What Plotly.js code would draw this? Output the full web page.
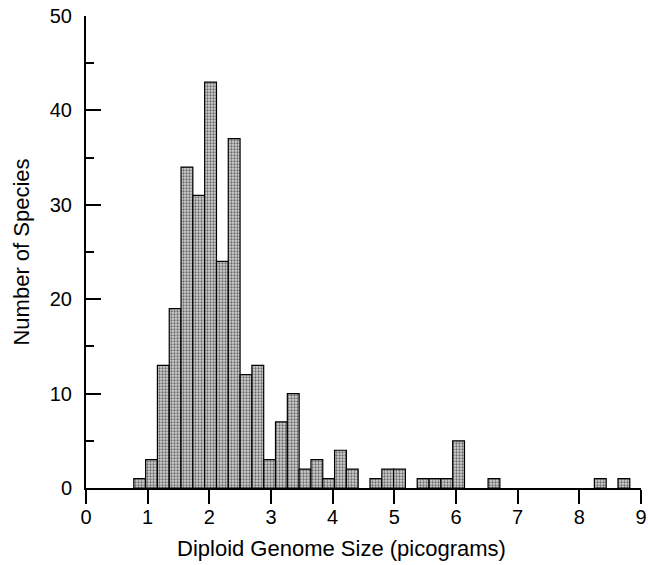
<!DOCTYPE html>
<html>
<head>
<meta charset="utf-8">
<script src="https://cdn.plot.ly/plotly-3.0.1.min.js"></script>
<style>html,body{margin:0;padding:0;background:#fff;}#chart{width:648px;height:565px;}</style>
</head>
<body>
<div id="chart"></div>
<script>
// Lower edge of each non-empty bin (picograms) and number of species in it
const binLower = [0.775, 0.967, 1.158, 1.350, 1.541, 1.733, 1.924, 2.116, 2.307, 2.499,
                  2.690, 2.882, 3.073, 3.265, 3.456, 3.648, 3.839, 4.031, 4.222,
                  4.605, 4.797, 4.988, 5.371, 5.563, 5.754, 5.946, 6.520, 8.244, 8.627];
const counts   = [1, 3, 13, 19, 34, 31, 43, 24, 37, 12,
                  13, 3, 7, 10, 2, 3, 1, 4, 2,
                  1, 2, 2, 1, 1, 1, 5, 1, 1, 1];
const binWidth = 0.1915;
const xTicks = [0, 1, 2, 3, 4, 5, 6, 7, 8, 9];
const yTicks = [0, 10, 20, 30, 40, 50];
const xTitle = 'Diploid Genome Size (picograms)';
const yTitle = 'Number of Species';

const font = {family: '"Liberation Sans", Arial, Helvetica, sans-serif', color: '#000'};

const trace = {
  type: 'bar',
  x: binLower,
  y: counts,
  width: binWidth,
  offset: 0,
  marker: {
    color: '#c8c8c8',
    line: {color: '#000', width: 1.2},
    pattern: {shape: '.', fgcolor: '#6a6a6a', bgcolor: '#d4d4d4', size: 3, solidity: 0.45}
  },
  hoverinfo: 'x+y'
};

const layout = {
  width: 648, height: 565,
  margin: {l: 86, r: 7, t: 16, b: 77},
  paper_bgcolor: '#fff', plot_bgcolor: '#fff',
  showlegend: false,
  bargap: 0,
  font: Object.assign({size: 20}, font),
  xaxis: {
    range: [0, 9],
    tickvals: xTicks,
    ticktext: xTicks.map(String),
    ticks: 'outside', ticklen: 14, tickwidth: 2, tickcolor: '#000',
    showline: true, linewidth: 2, linecolor: '#000',
    showgrid: false, zeroline: false,
    ticklabelstandoff: -4,
    tickfont: Object.assign({size: 20}, font)
  },
  yaxis: {
    range: [0, 50],
    tickvals: yTicks,
    ticktext: yTicks.map(String),
    ticks: 'inside', ticklen: 15, tickwidth: 2, tickcolor: '#000',
    minor: {dtick: 5, tick0: 0, ticks: 'inside', ticklen: 8, tickwidth: 2, tickcolor: '#000', showgrid: false},
    showline: true, linewidth: 2, linecolor: '#000',
    showgrid: false, zeroline: false,
    ticklabelstandoff: 8,
    tickfont: Object.assign({size: 20}, font),
    title: {text: yTitle, font: Object.assign({size: 22}, font), standoff: 14}
  },
  annotations: [{
    text: xTitle, xref: 'paper', yref: 'paper',
    x: 0.461, y: -0.129, xanchor: 'center', yanchor: 'middle',
    showarrow: false, font: Object.assign({size: 22}, font)
  }]
};

Plotly.newPlot('chart', [trace], layout, {displayModeBar: false, staticPlot: true});
</script>
</body>
</html>
